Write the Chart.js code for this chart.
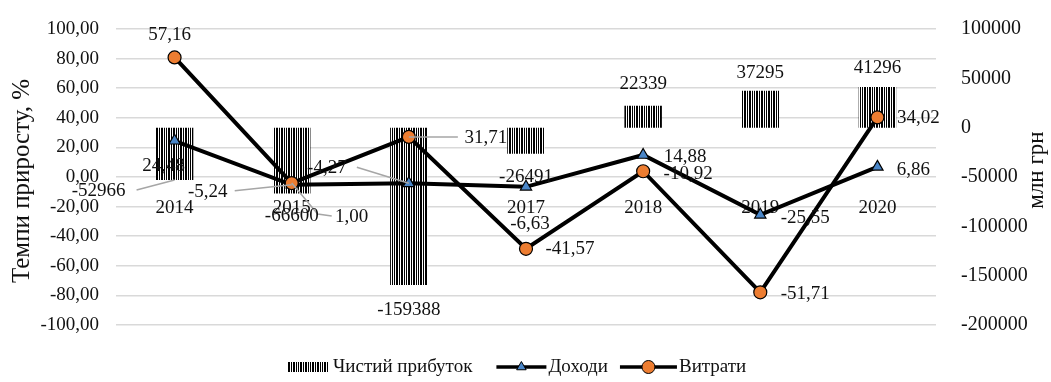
<!DOCTYPE html>
<html>
<head>
<meta charset="utf-8">
<script src="https://cdn.jsdelivr.net/npm/chart.js@4.4.0/dist/chart.umd.min.js"></script>
<style>
  html, body { margin: 0; padding: 0; background: #fff; }
  #wrap { width: 1051px; height: 382px; }
</style>
</head>
<body>
<div id="wrap"><canvas id="chart"></canvas></div>
<script>
// data
const years = ["2014", "2015", "2016", "2017", "2018", "2019", "2020"];
const netProfit = [-52966, -66600, -159388, -26491, 22339, 37295, 41296];
const income = [24.48, -5.24, -4.27, -6.63, 14.88, -25.55, 6.86];
// expenses: where the markers sit on the left axis; the printed labels differ
const expenses = [80.8, -4.1, 27.1, -48.5, 3.9, -77.9, 40.3];
const expensesText = ["57,16", "1,00", "31,71", "-41,57", "-10,92", "-51,71", "34,02"];

const FONT = '"Liberation Serif", "Times New Roman", serif';
const TEXT = "#111";

// label placement relative to the mark (px)
const profitLabelOffsets = [[-76, 11], [0, 23], [0, 25], [0, 23], [0, -22], [0, -18], [0, -19]];
const incomeLabelOffsets = [[-11, 25], [-84, 7], [-82, -15], [4, 37], [42, 2], [45, 3], [36, 3]];
const expensesLabelOffsets = [[-5, -22], [60, 34], [77, 1], [44, 0], [45, 3], [45, 2], [41, 1]];
// leader lines: start relative to label centre, optional bend, end at the mark
const leaders = [
  { ds: 2, i: 0, from: [38, -1] },
  { ds: 1, i: 1, from: [27, -1] },
  { ds: 1, i: 2, from: [30, -1] },
  { ds: 0, i: 2, from: [-28, -1] },
  { ds: 0, i: 1, from: [-20, -1], via: [-34, -3] },
];

function stripes() {
  const c = document.createElement("canvas");
  c.width = 12;
  c.height = 4;
  const g = c.getContext("2d");
  g.fillStyle = "#fff";
  g.fillRect(0, 0, 12, 4);
  g.fillStyle = "#000";
  [[0, 2], [3, 1], [5, 2], [8, 1], [10, 1]].forEach(([x, w]) => g.fillRect(x, 0, w, 4));
  return g.createPattern(c, "repeat");
}
const stripeFill = stripes();

const fmt2 = (v) => v.toFixed(2).replace(".", ",");

const labelsPlugin = {
  id: "labels",
  afterDatasetsDraw(chart) {
    const ctx = chart.ctx;
    const groups = [
      { ds: 0, offs: expensesLabelOffsets, text: (i) => expensesText[i] },
      { ds: 1, offs: incomeLabelOffsets, text: (i) => fmt2(income[i]) },
      { ds: 2, offs: profitLabelOffsets, text: (i) => String(netProfit[i]) },
    ];
    const centre = (ds, i) => {
      const el = chart.getDatasetMeta(ds).data[i];
      const o = groups.find((g) => g.ds === ds).offs[i];
      return { el, x: el.x + o[0], y: el.y + o[1] };
    };
    ctx.save();
    ctx.strokeStyle = "#a6a6a6";
    ctx.lineWidth = 1.5;
    leaders.forEach((l) => {
      const c = centre(l.ds, l.i);
      ctx.beginPath();
      ctx.moveTo(c.x + l.from[0], c.y + l.from[1]);
      if (l.via) ctx.lineTo(c.x + l.via[0], c.y + l.via[1]);
      ctx.lineTo(c.el.x, c.el.y);
      ctx.stroke();
    });
    ctx.font = "19px " + FONT;
    ctx.fillStyle = TEXT;
    ctx.textAlign = "center";
    ctx.textBaseline = "middle";
    groups.forEach((g) => {
      years.forEach((_, i) => {
        const c = centre(g.ds, i);
        ctx.fillText(g.text(i), c.x, c.y);
      });
    });
    ctx.restore();
  },
  afterDraw(chart) {
    const ctx = chart.ctx;
    ctx.save();
    ctx.fillStyle = TEXT;
    ctx.textAlign = "center";
    ctx.textBaseline = "middle";
    // axis titles
    [["Темпи приросту, %", 22, 181, 25], ["млн грн", 1037, 170, 23]].forEach(([t, x, y, size]) => {
      ctx.save();
      ctx.font = size + "px " + FONT;
      ctx.translate(x, y);
      ctx.rotate(-Math.PI / 2);
      ctx.fillText(t, 0, 0);
      ctx.restore();
    });
    // legend
    ctx.font = "19px " + FONT;
    const ly = 367;
    let x = 288;
    ctx.textAlign = "left";
    ctx.fillStyle = stripeFill;
    ctx.fillRect(x, ly - 5, 40, 10);
    x += 45;
    ctx.fillStyle = TEXT;
    const t0 = chart.data.datasets[2].label;
    ctx.fillText(t0, x, ly);
    x += ctx.measureText(t0).width + 24;
    [[1, 50], [0, 57]].forEach(([ds, len]) => {
      const d = chart.data.datasets[ds];
      ctx.strokeStyle = "#000";
      ctx.lineWidth = 3.5;
      ctx.beginPath();
      ctx.moveTo(x, ly);
      ctx.lineTo(x + len, ly);
      ctx.stroke();
      ctx.fillStyle = d.pointBackgroundColor;
      ctx.strokeStyle = "#000";
      ctx.lineWidth = 1;
      Chart.helpers.drawPoint(ctx, { pointStyle: d.pointStyle, radius: ds === 1 ? 5.5 : 6.5, borderWidth: 1 }, x + len / 2, ly);
      x += len + 2;
      ctx.fillStyle = TEXT;
      ctx.fillText(d.label, x, ly);
      x += ctx.measureText(d.label).width + 12;
    });
    ctx.restore();
  },
};

new Chart(document.getElementById("chart"), {
  data: {
    labels: years,
    datasets: [
      {
        type: "line",
        label: "Витрати",
        data: expenses,
        yAxisID: "y",
        order: 0,
        borderColor: "#000",
        borderWidth: 4,
        tension: 0,
        pointStyle: "circle",
        pointRadius: 6.5,
        pointBackgroundColor: "#ed7d31",
        pointBorderColor: "#000",
        pointBorderWidth: 1.2,
      },
      {
        type: "line",
        label: "Доходи",
        data: income,
        yAxisID: "y",
        order: 1,
        borderColor: "#000",
        borderWidth: 4,
        tension: 0,
        pointStyle: "triangle",
        pointRadius: 6.5,
        pointBackgroundColor: "#4a86c8",
        pointBorderColor: "#000",
        pointBorderWidth: 1.2,
      },
      {
        type: "bar",
        label: "Чистий прибуток",
        data: netProfit,
        yAxisID: "y1",
        order: 2,
        backgroundColor: stripeFill,
        categoryPercentage: 0.32,
        barPercentage: 1,
      },
    ],
  },
  options: {
    responsive: true,
    maintainAspectRatio: false,
    animation: false,
    layout: { padding: { top: 17, bottom: 57, left: 0, right: 0 } },
    plugins: { legend: { display: false }, tooltip: { enabled: false } },
    scales: {
      x: {
        type: "category",
        position: { y: 0 },
        afterFit: (s) => { s.height = 0; },
        grid: { display: false },
        border: { display: false },
        ticks: { padding: 12, color: TEXT, font: { family: FONT, size: 19 }, maxRotation: 0 },
      },
      y: {
        position: "left",
        min: -100,
        max: 100,
        afterFit: (s) => { s.width = 116; },
        grid: { color: "#d9d9d9", lineWidth: 1.5, drawTicks: false },
        border: { display: false },
        ticks: { stepSize: 20, padding: 17, color: TEXT, font: { family: FONT, size: 19 }, callback: (v) => fmt2(v) },
      },
      y1: {
        position: "right",
        min: -200000,
        max: 100000,
        afterFit: (s) => { s.width = 115; },
        grid: { display: false },
        border: { display: false },
        ticks: { stepSize: 50000, padding: 17, color: TEXT, font: { family: FONT, size: 20 }, callback: (v) => String(v) },
      },
    },
  },
  plugins: [labelsPlugin],
});
</script>
</body>
</html>
